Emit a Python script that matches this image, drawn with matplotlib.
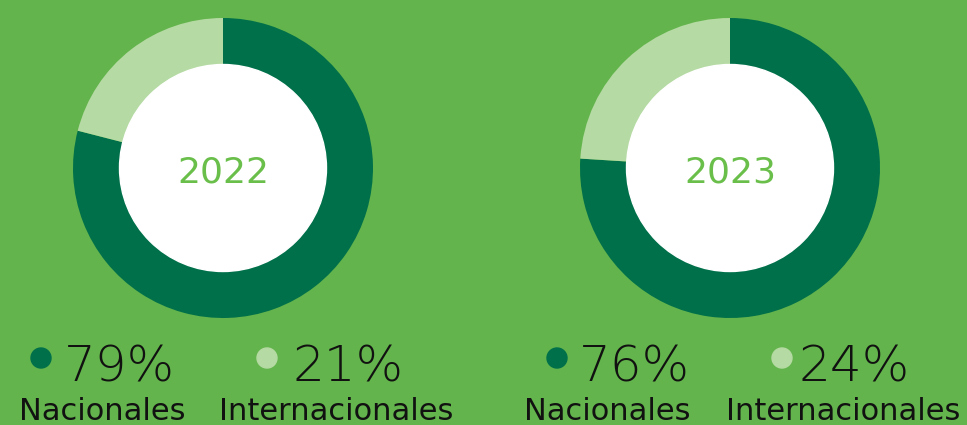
import matplotlib
matplotlib.use("Agg")
import matplotlib.pyplot as plt
from matplotlib.patches import Circle

years = ["2022", "2023"]
nacionales = [79, 76]
internacionales = [21, 24]
categories = ["Nacionales", "Internacionales"]

BG = "#63b44c"
DARK = "#00704a"
LIGHT = "#b5daa3"
YEAR_C = "#6abf4b"

W, H = 967, 425
fig = plt.figure(figsize=(W / 100, H / 100), dpi=100, facecolor=BG)
ax = fig.add_axes([0, 0, 1, 1])
ax.set_facecolor(BG)

centers_x = [223, 730]
cy = H - 168
R, r_in = 150, 103

for i, yr in enumerate(years):
    cx = centers_x[i]
    ax.pie([nacionales[i], internacionales[i]], colors=[DARK, LIGHT],
           startangle=90, counterclock=False, center=(cx, cy), radius=R,
           wedgeprops=dict(width=R - r_in, linewidth=0), frame=True)
    ax.add_patch(Circle((cx, cy), r_in + 0.5, color="white", zorder=5))
    ax.text(cx, cy - 4, yr, ha="center", va="center", fontsize=26,
            color=YEAR_C, fontweight="normal", zorder=6,
            family=["DejaVu Sans"])

# legend rows
dot_x = [[41, 267], [557, 782]]
pct_x = [[64, 292], [579, 799]]
lab_x = [[19, 219], [524, 726]]
vals = [[nacionales[0], internacionales[0]], [nacionales[1], internacionales[1]]]
for i in range(2):
    for j in range(2):
        col = DARK if j == 0 else LIGHT
        ax.add_patch(Circle((dot_x[i][j], H - 358), 10, color=col, zorder=5))
        ax.text(pct_x[i][j], H - 382, f"{vals[i][j]}%", ha="left", va="baseline",
                fontsize=36, color="#111111", fontweight="light",
                family=["DejaVu Sans"])
        ax.text(lab_x[i][j], H - 420, categories[j], ha="left", va="baseline",
                fontsize=22, color="#111111", fontweight="normal",
                family=["DejaVu Sans"])

ax.set_xlim(0, W)
ax.set_ylim(0, H)
ax.set_aspect("equal")
ax.axis("off")
fig.savefig("out.png", dpi=100, facecolor=BG)
